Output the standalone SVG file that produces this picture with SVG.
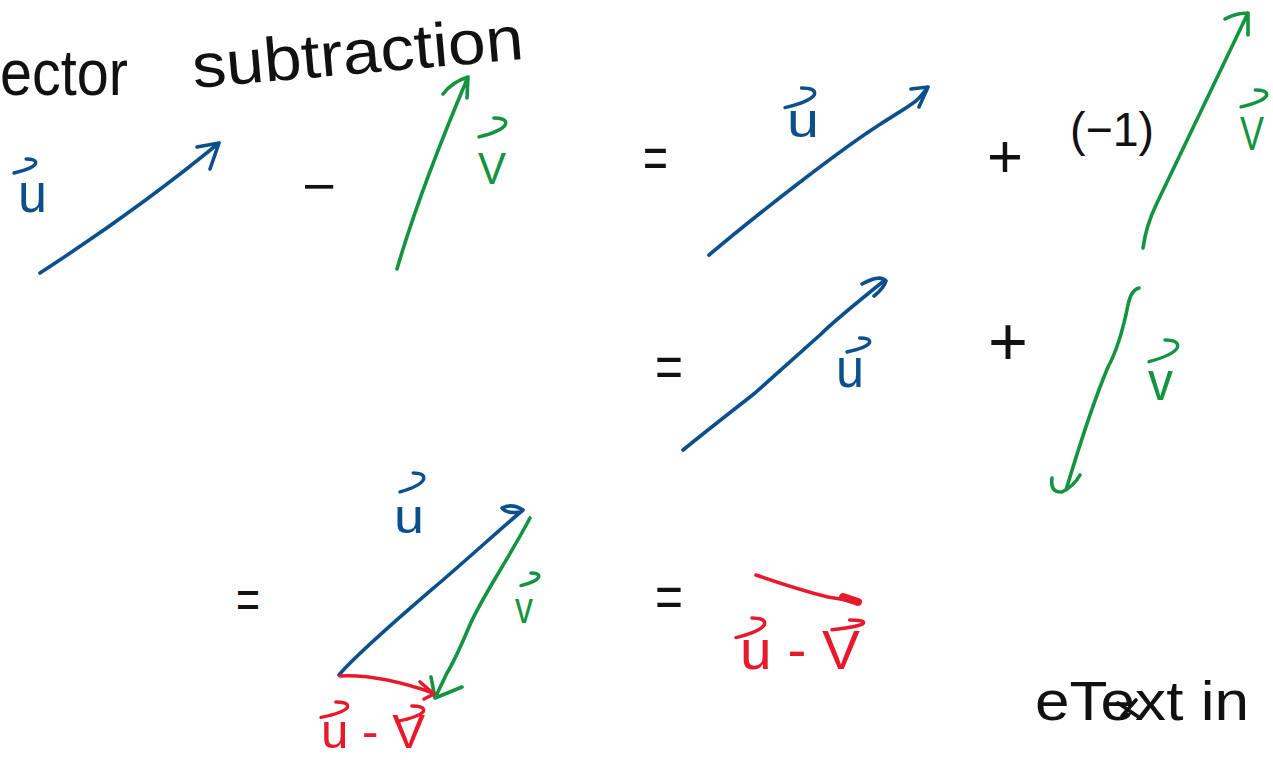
<svg xmlns="http://www.w3.org/2000/svg" xmlns:xlink="http://www.w3.org/1999/xlink" width="1273" height="760" viewBox="0 0 1273 760">
<style>
.t{font-family:"Liberation Sans",Arial,sans-serif}
.k{fill:#111}
.b{fill:#0b4f8c}
.g{fill:#149440}
.r{fill:#e61a2b}
.s{fill:none;stroke-width:3.6;stroke-linecap:round;stroke-linejoin:round}
.sb{stroke:#0b4f8c}
.sg{stroke:#149440}
.sr{stroke:#e61a2b}
.sk{stroke:#111}
.hk{fill:none;stroke-width:3.4;stroke-linecap:round;stroke-linejoin:round;vector-effect:non-scaling-stroke}
</style>
<defs>
<path id="hook" class="hk" d="M0,14 C8,12 17,9 19.5,5 C21,1 16,0 11,0"/>
</defs>
<rect width="1273" height="760" fill="#fff"/>

<g id="title">
<text class="t k" x="0" y="95" font-size="64" textLength="128" lengthAdjust="spacingAndGlyphs">ector</text>
<text class="t k" x="194" y="88" font-size="62" textLength="332" lengthAdjust="spacingAndGlyphs" transform="rotate(-5 194 88)">subtraction</text>
</g>

<g id="connectors">
<!-- row 1 -->
<path id="u1" class="s sb" d="M40,273 Q140,208 219,143 M197,147 L219,143 L210,169"/>
<path id="v1" class="s sg" d="M397,269 Q420,190 468,77 M443,94 Q452,82 468,77 L467,98"/>
<path id="u2" class="s sb" d="M709,255 C760,212 840,150 879,125 S915,104 928,87 M911,89 L928,87 L919,107"/>
<path id="v3" class="s sg" d="M1143,248 Q1146,226 1156,205 L1248,13 M1225,19 Q1236,13 1248,13 L1248,35"/>
<!-- row 2 -->
<path id="u4" class="s sb" d="M683,450 C720,420 740,405 755,393 L820,335 C835,320 860,300 885,280 M862,284 Q880,274 886,281 Q884,288 874,296"/>
<path id="v4" class="s sg" d="M1139,288 Q1131,290 1128,305 Q1120,345 1108,367 Q1090,410 1066,490 M1052,478 Q1050,493 1062,492 Q1074,486 1080,475"/>
<!-- row 3 -->
<path id="u5" class="s sb" d="M339,675 C360,650 420,600 451,573 S505,525 523,510 M523,510 Q512,503 502,508 Q506,514 521,512"/>
<path id="v5" class="s sg" d="M530,518 C505,565 480,600 469,627 Q455,660 447,673 L435,698 M431,677 L435,698 L462,687"/>
<path id="d5" class="s sr" d="M340,676 Q379,674 433,693 M420,682 L434,694 L424,699"/>
<path id="d6" class="s sr" d="M756,575 Q800,590 828,597 L859,602"/>
<path class="sr" d="M843,597 L858,602" stroke-width="8" stroke-linecap="round"/>
</g>

<g id="row1">
<use xlink:href="#hook" stroke="#0b4f8c" transform="translate(14,159) scale(1.1,1)"/>
<text class="t b" x="18" y="212" font-size="56" textLength="29" lengthAdjust="spacingAndGlyphs">u</text>
<text class="t k" x="302" y="204" font-size="52" textLength="34" lengthAdjust="spacingAndGlyphs">−</text>
<use xlink:href="#hook" stroke="#149440" transform="translate(479,118) scale(1.35,1.35)"/>
<text class="t g" x="478" y="184" font-size="44" textLength="28" lengthAdjust="spacingAndGlyphs">V</text>
<text class="t k" x="643" y="178" font-size="60" textLength="25" lengthAdjust="spacingAndGlyphs">=</text>
<use xlink:href="#hook" stroke="#0b4f8c" transform="translate(785,88) scale(1.5,1.4)"/>
<text class="t b" x="787" y="137" font-size="48" textLength="32" lengthAdjust="spacingAndGlyphs">u</text>
<text class="t k" x="987" y="177" font-size="62" textLength="36" lengthAdjust="spacingAndGlyphs">+</text>
<text class="t k" x="1070" y="146" font-size="48" textLength="84" lengthAdjust="spacingAndGlyphs">(−1)</text>
<use xlink:href="#hook" stroke="#149440" transform="translate(1241,90) scale(1.3,1.2)"/>
<text class="t g" x="1240" y="150" font-size="48" textLength="24" lengthAdjust="spacingAndGlyphs">V</text>
</g>

<g id="row2">
<text class="t k" x="655" y="387" font-size="60" textLength="28" lengthAdjust="spacingAndGlyphs">=</text>
<use xlink:href="#hook" stroke="#0b4f8c" transform="translate(847,338) scale(1.15,1)"/>
<text class="t b" x="836" y="387" font-size="56" textLength="28" lengthAdjust="spacingAndGlyphs">u</text>
<text class="t k" x="988" y="365" font-size="68" textLength="40" lengthAdjust="spacingAndGlyphs">+</text>
<use xlink:href="#hook" stroke="#149440" transform="translate(1149,340) scale(1.45,1.55)"/>
<text class="t g" x="1148" y="400" font-size="56" textLength="25" lengthAdjust="spacingAndGlyphs">v</text>
</g>

<g id="row3">
<text class="t k" x="236" y="618" font-size="56" textLength="24" lengthAdjust="spacingAndGlyphs">=</text>
<use xlink:href="#hook" stroke="#0b4f8c" transform="translate(400,473) scale(1.2,1.35)"/>
<text class="t b" x="394" y="533" font-size="48" textLength="30" lengthAdjust="spacingAndGlyphs">u</text>
<use xlink:href="#hook" stroke="#149440" transform="translate(521,573) scale(0.9,0.9)"/>
<text class="t g" x="515" y="623" font-size="44" textLength="18" lengthAdjust="spacingAndGlyphs">v</text>
<use xlink:href="#hook" stroke="#e61a2b" transform="translate(321,702) scale(1.35,1.1)"/>
<use xlink:href="#hook" stroke="#e61a2b" transform="translate(397,706) scale(1.35,1.1)"/>
<text class="t r" x="321" y="748" font-size="48" textLength="104" lengthAdjust="spacingAndGlyphs">u - V</text>
<text class="t k" x="655" y="617" font-size="60" textLength="28" lengthAdjust="spacingAndGlyphs">=</text>
<use xlink:href="#hook" stroke="#e61a2b" transform="translate(736,618) scale(1.45,1.4)"/>
<use xlink:href="#hook" stroke="#e61a2b" transform="translate(832,620) scale(1.6,0.7)"/>
<text class="t r" x="740" y="669" font-size="56" textLength="120" lengthAdjust="spacingAndGlyphs">u - V</text>
</g>

<g id="footer">
<text class="t k" x="1035" y="720" font-size="56" textLength="214" lengthAdjust="spacingAndGlyphs">eText in</text>
<path class="s sk" d="M1118,703 L1140,718 M1122,716 L1136,700" stroke-width="3"/>
</g>
</svg>
